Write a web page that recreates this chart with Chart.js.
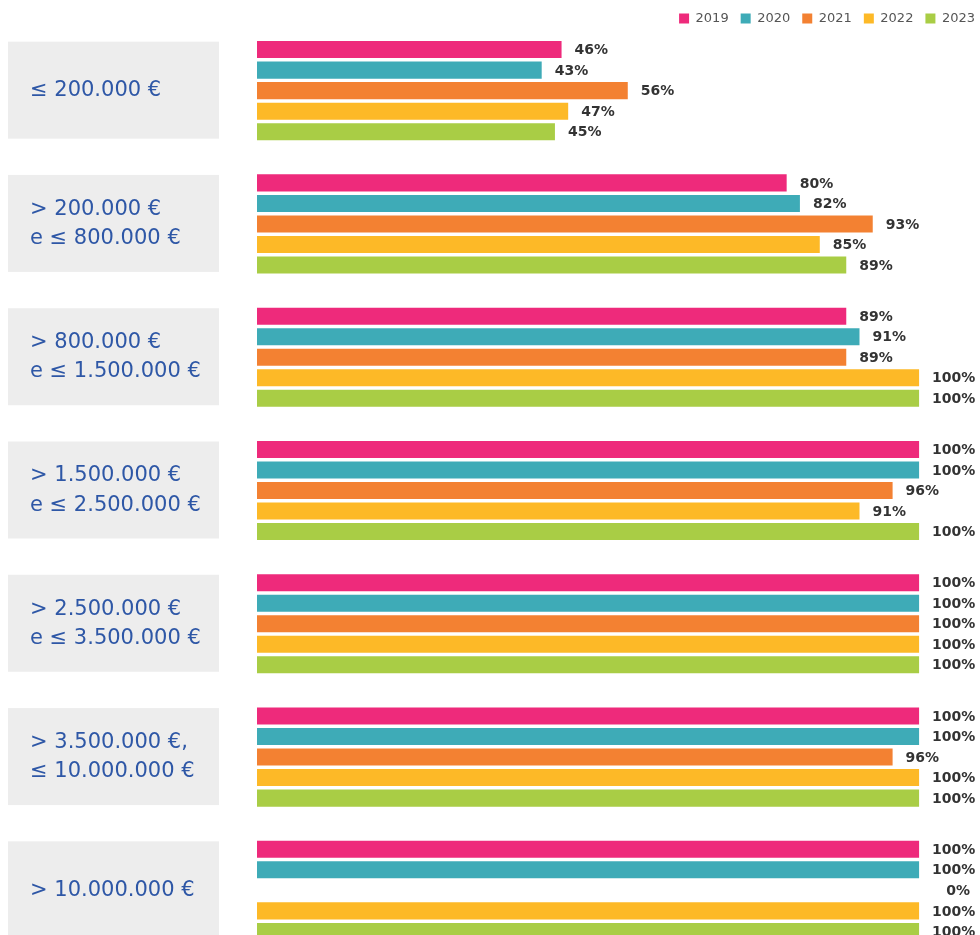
<!DOCTYPE html>
<html>
<head>
<meta charset="utf-8">
<script src="https://cdn.jsdelivr.net/npm/chart.js@4"></script>
<style>
  html, body { margin: 0; padding: 0; background: #fff; overflow: hidden; }
  #wrap { width: 980px; height: 957px; position: relative; }
</style>
</head>
<body>
<div id="wrap"><canvas id="myChart"></canvas></div>
<script>
const categories = [
    ['≤ 200.000 €'],
    ['> 200.000 €', 'e ≤ 800.000 €'],
    ['> 800.000 €', 'e ≤ 1.500.000 €'],
    ['> 1.500.000 €', 'e ≤ 2.500.000 €'],
    ['> 2.500.000 €', 'e ≤ 3.500.000 €'],
    ['> 3.500.000 €,', '≤ 10.000.000 €'],
    ['> 10.000.000 €']
];
const years = ['2019', '2020', '2021', '2022', '2023'];
const values2019 = [46, 80, 89, 100, 100, 100, 100];
const values2020 = [43, 82, 91, 100, 100, 100, 100];
const values2021 = [56, 93, 89, 96, 100, 96, 0];
const values2022 = [47, 85, 100, 91, 100, 100, 100];
const values2023 = [45, 89, 100, 100, 100, 100, 100];
const colors = ['#ee2a7b', '#3eabb7', '#f38132', '#fdb927', '#a9cd45'];

const allValues = [values2019, values2020, values2021, values2022, values2023];

// legende moins haute que par defaut
const legendHeightPlugin = {
    id: 'legendHeight',
    afterInit(chart) {
        const lg = chart.legend;
        if (lg && !lg._patched) {
            const fit = lg.fit;
            lg.fit = function () { fit.call(this); this.height = 24; };
            lg._patched = true;
        }
    }
};

// boites grises derriere les libelles
const boxPlugin = {
    id: 'boxes',
    beforeDraw(chart) {
        const ctx = chart.ctx;
        const y = chart.scales.y;
        ctx.save();
        ctx.fillStyle = '#ededed';
        categories.forEach((c, i) => {
            const cy = y.getPixelForValue(i);
            ctx.fillRect(y.left - 22, cy - 49, 211, 97);
        });
        ctx.restore();
    }
};

// pourcentages au bout des barres
const labelPlugin = {
    id: 'valueLabels',
    afterDatasetsDraw(chart) {
        const ctx = chart.ctx;
        ctx.save();
        ctx.font = 'bold 14px "DejaVu Sans"';
        ctx.fillStyle = '#333333';
        ctx.textBaseline = 'middle';
        chart.data.datasets.forEach((ds, di) => {
            chart.getDatasetMeta(di).data.forEach((bar, i) => {
                const v = ds.data[i];
                if (v === 0) {
                    ctx.textAlign = 'right';
                    ctx.fillText(v + '%', chart.chartArea.right - 10, bar.y + 1);
                } else {
                    ctx.textAlign = 'left';
                    ctx.fillText(v + '%', bar.x + 13, bar.y + 1);
                }
            });
        });
        ctx.restore();
    }
};

new Chart(document.getElementById('myChart'), {
    type: 'bar',
    data: {
        labels: categories,
        datasets: years.map((yr, k) => ({
            label: yr,
            data: allValues[k],
            backgroundColor: colors[k],
            borderWidth: 0,
            barPercentage: 0.83,
            categoryPercentage: 0.77
        }))
    },
    options: {
        indexAxis: 'y',
        responsive: true,
        maintainAspectRatio: false,
        animation: false,
        layout: { padding: { left: 30, right: -7, top: 0, bottom: 0 } },
        scales: {
            x: {
                display: false,
                min: 0,
                max: 109.2
            },
            y: {
                grid: { display: false },
                border: { display: false },
                afterFit(scale) {
                    scale.width = 227;
                    scale.paddingTop = 0;
                    scale.paddingBottom = 0;
                },
                ticks: {
                    crossAlign: 'far',
                    color: '#2e57a6',
                    font: { family: 'DejaVu Sans', size: 21, lineHeight: 1.4 }
                }
            }
        },
        plugins: {
            legend: {
                position: 'top',
                align: 'end',
                labels: {
                    boxWidth: 10,
                    boxHeight: 10,
                    padding: 12,
                    color: '#555555',
                    font: { family: 'DejaVu Sans', size: 13 }
                }
            },
            tooltip: { enabled: false }
        }
    },
    plugins: [legendHeightPlugin, boxPlugin, labelPlugin]
});
</script>
</body>
</html>
